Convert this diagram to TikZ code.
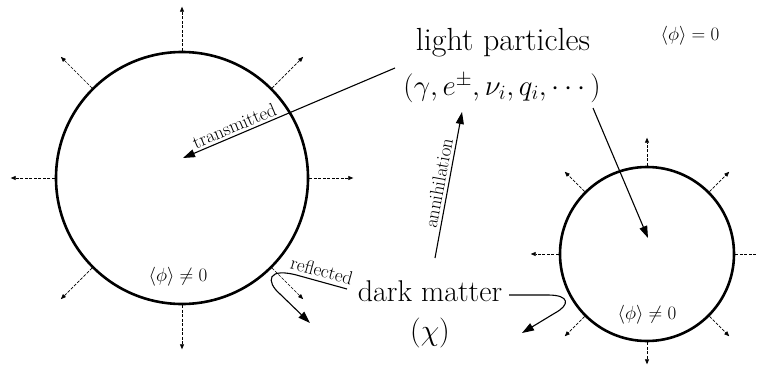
\documentclass[tikz,border=0pt]{standalone}
\usepackage{fix-cm}
\usepackage{amsmath,amssymb}
\usepackage{tikz}
\usetikzlibrary{arrows.meta}

\begin{document}
\begin{tikzpicture}[
    x=1pt, y=-1pt,
    bubble/.style={circle, draw, line width=2.6pt, inner sep=0pt},
    flow/.style={-{Triangle[length=12pt,width=8pt]}, line width=1.1pt},
    radial/.style={dash pattern=on 3pt off 1.5pt, -{Triangle[length=5pt,width=4pt]}, line width=0.7pt},
    big/.style={font=\fontsize{32}{36}\selectfont},
    tag/.style={font=\fontsize{19}{22}\selectfont}
]
\useasboundingbox (0,0) rectangle (757,372);

% Bubbles of broken phase
\node[bubble, minimum size=252pt] (bigbub) at (182,178) {};
\node[bubble, minimum size=174pt] (smallbub) at (647,254) {};
\foreach \a in {0,45,...,315}
    \draw[radial] (bigbub.\a) -- ++(\a:44pt);
\foreach \a in {0,45,...,225,315}
    \draw[radial] (smallbub.\a) -- ++(\a:28pt);
\draw[radial] (smallbub.270) -- ++(270:22pt);

% Vacuum labels
\node[tag] (vevin) at (178,277) {$\langle\phi\rangle \neq 0$};
\node[tag] (vevsmall) at (647,315) {$\langle\phi\rangle \neq 0$};
\node[tag] (vevout) at (690,36) {$\langle\phi\rangle = 0$};

% Particles
\node[big] (light) at (503,43) {light particles};
\node[big, font=\fontsize{29}{33}\selectfont] (lightlist) at (502,88) {$(\gamma, e^{\pm}, \nu_i, q_i, \cdots)$};
\node[big, font=\fontsize{30}{34}\selectfont] (dm) at (430,291) {dark matter};
\node[big, font=\fontsize{30}{34}\selectfont] (chi) at (430,333) {$(\chi)$};

% Arrow end points
\coordinate (tstart) at (395,68);
\coordinate (ttip) at (183,158);
\coordinate (astart) at (435,258);
\coordinate (atip) at (462,112);
\coordinate (lstart) at (593,108);
\coordinate (ltip) at (648,238);
\coordinate (rstart) at (347,289);
\coordinate (rtip) at (310,323);
\coordinate (dstart) at (509,295);
\coordinate (dtip) at (522,333);

% Arrows
\draw[flow] (tstart) -- node[pos=0.74, sloped, above, tag, inner sep=2.5pt] {transmitted} (ttip);
\draw[flow] (astart) -- node[midway, sloped, above, tag, inner sep=3pt] {annihilation} (atip);
\draw[flow] (lstart) -- (ltip);
\draw[flow] (rstart) -- (300,276) node[pos=0.6, sloped, above, tag, inner sep=4pt] {reflected}
    .. controls (266,266) and (266,282) .. (280,294) -- (rtip);
\draw[flow] (dstart) -- (548,295) .. controls (570,295) and (570,305) .. (555,313) -- (dtip);

\end{tikzpicture}
\end{document}
